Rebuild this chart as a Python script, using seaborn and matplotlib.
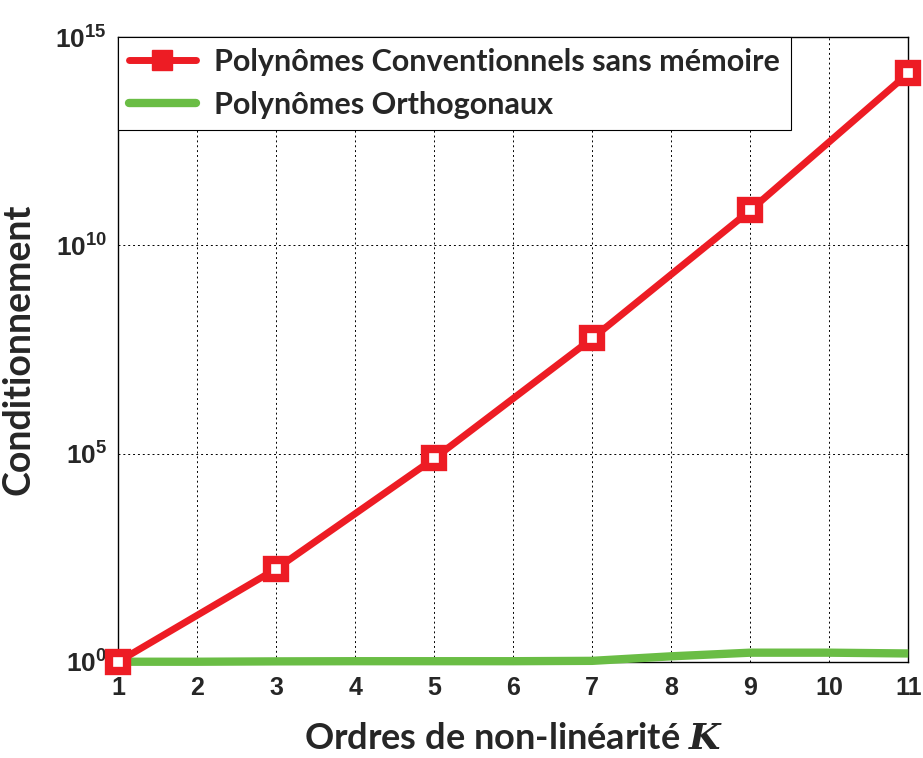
import numpy as np
import pandas as pd
import matplotlib
matplotlib.use("Agg")
import matplotlib.pyplot as plt
from matplotlib.lines import Line2D
import seaborn as sns

# Orders of non-linearity and conditioning numbers
orders_conv = [1, 3, 5, 7, 9, 11]
cond_conv = [1.0, 1.7e2, 7.6e4, 5.8e7, 6.9e10, 1.35e14]

orders_orth = [1, 2, 3, 4, 5, 6, 7, 8, 9, 10, 11]
cond_orth = [1.0, 1.0, 1.02, 1.03, 1.03, 1.03, 1.05, 1.35, 1.65, 1.65, 1.58]

x_ticks = list(range(1, 12))
y_ticks = [1e0, 1e5, 1e10, 1e15]
y_ticklabels = [r"$\mathbf{10^{0}}$", r"$\mathbf{10^{5}}$", r"$\mathbf{10^{10}}$", r"$\mathbf{10^{15}}$"]

label_conv = "Polynômes Conventionnels sans mémoire"
label_orth = "Polynômes Orthogonaux"

red = "#ED1C24"
green = "#6ABD45"

sns.set_style("white")
plt.rcParams["font.family"] = ["Liberation Sans", "DejaVu Sans"]
plt.rcParams["mathtext.fontset"] = "custom"
plt.rcParams["mathtext.rm"] = "Liberation Sans"
plt.rcParams["mathtext.bf"] = "Liberation Sans:bold"
plt.rcParams["mathtext.it"] = "DejaVu Serif:italic:bold"

df_conv = pd.DataFrame({"K": orders_conv, "cond": cond_conv})
df_orth = pd.DataFrame({"K": orders_orth, "cond": cond_orth})

fig = plt.figure(figsize=(9.23, 7.58), dpi=100)
ax = fig.add_axes([0.128, 0.127, 0.856, 0.824])

sns.lineplot(data=df_orth, x="K", y="cond", ax=ax, color=green, lw=6,
             solid_capstyle="butt", zorder=3)
sns.lineplot(data=df_conv, x="K", y="cond", ax=ax, color=red, lw=5,
             marker="s", markersize=13, markerfacecolor="white",
             markeredgecolor=red, markeredgewidth=6, zorder=4)
for ln in ax.lines:
    ln.set_clip_on(False)

ax.set_yscale("log")
ax.set_xlim(1, 11)
ax.set_ylim(1e0, 1e15)
ax.set_xticks(x_ticks)
ax.set_xticklabels([str(t) for t in x_ticks], fontweight="bold", fontsize=18,
                   fontstretch="condensed")
ax.set_yticks(y_ticks)
ax.set_yticklabels(y_ticklabels, fontsize=19)
ax.yaxis.set_minor_locator(matplotlib.ticker.NullLocator())
ax.tick_params(axis="x", direction="in", length=0, pad=10)
ax.tick_params(axis="y", direction="in", length=0, pad=8)

ax.grid(True, which="major", ls=(0, (2, 3)), color="black", lw=0.7)
for s in ax.spines.values():
    s.set_color("black")
    s.set_linewidth(1.0)

ax.set_xlabel("Ordres de non-linéarité $K$",
              fontfamily="Lato", fontweight="bold", fontsize=26, labelpad=16)
ax.set_ylabel("Conditionnement", fontfamily="Lato", fontweight="bold",
              fontsize=27, labelpad=14)

handles = [
    Line2D([], [], color=red, lw=5, marker="s", markersize=15,
           markerfacecolor=red, markeredgecolor=red),
    Line2D([], [], color=green, lw=6),
]
leg = ax.legend(handles, [label_conv, label_orth], loc="upper left",
                borderaxespad=0, frameon=True, fancybox=False,
                edgecolor="black", framealpha=1, handlelength=2.2,
                handletextpad=0.6,
                prop={"family": "Lato", "weight": "bold", "size": 22},
                borderpad=0.35, labelspacing=0.5)
leg.get_frame().set_linewidth(0.8)

fig.savefig("out.png", dpi=100)
